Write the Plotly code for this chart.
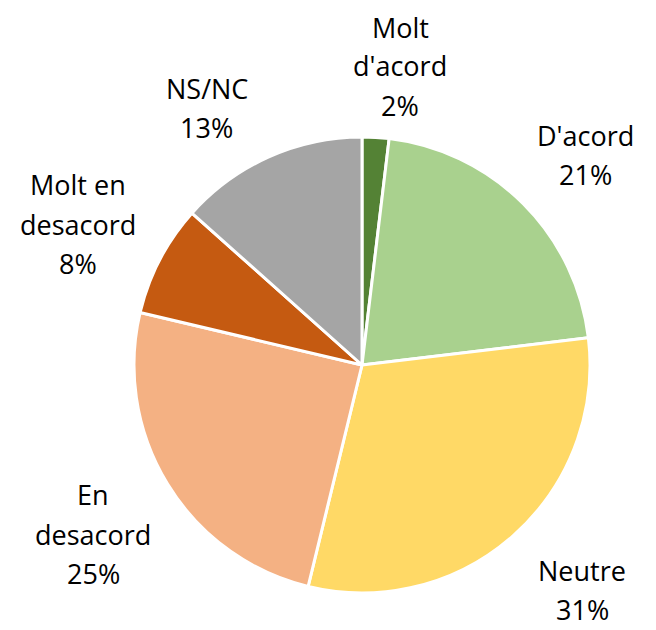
import plotly.graph_objects as go

categories = ["Molt d'acord", "D'acord", "Neutre", "En desacord", "Molt en desacord", "NS/NC"]
label_lines = [["Molt", "d'acord"], ["D'acord"], ["Neutre"], ["En", "desacord"], ["Molt en", "desacord"], ["NS/NC"]]
values = [1.9, 21.2, 30.7, 24.9, 7.9, 13.4]
pct_labels = ["2%", "21%", "31%", "25%", "8%", "13%"]

colors = ["#548235", "#A9D18E", "#FFD966", "#F4B183", "#C55A11", "#A5A5A5"]

W, H = 648, 622
OFF = 8  # page body margin
LINE = 39  # line spacing in px
# label centres in page pixels (layout)
label_px = [(400, 66), (585, 155), (582, 590), (93, 534), (78, 224), (207, 108)]

fig = go.Figure(go.Pie(
    labels=categories,
    values=values,
    sort=False,
    direction="clockwise",
    rotation=0,
    marker=dict(colors=colors, line=dict(color="white", width=3)),
    textinfo="none",
    hoverinfo="label+percent",
    domain=dict(x=[(134 - OFF) / W, (590 - OFF) / W],
                y=[1 - (593 - OFF) / H, 1 - (137 - OFF) / H]),
    showlegend=False,
))

for lines, pct, (px, py) in zip(label_lines, pct_labels, label_px):
    all_lines = lines + [pct]
    n = len(all_lines)
    for i, line in enumerate(all_lines):
        ly = py + (i - (n - 1) / 2) * LINE
        fig.add_annotation(
            x=(px - OFF) / W, y=1 - (ly - OFF) / H, xref="paper", yref="paper",
            text=line, showarrow=False,
            xanchor="center", yanchor="middle", align="center",
            borderpad=0,
            font=dict(family="Open Sans, Noto Sans, sans-serif", size=27, color="#000000"),
        )

fig.update_layout(
    width=W, height=H,
    margin=dict(l=0, r=0, t=0, b=0),
    paper_bgcolor="white",
    plot_bgcolor="white",
)

fig.write_html("out.html")
